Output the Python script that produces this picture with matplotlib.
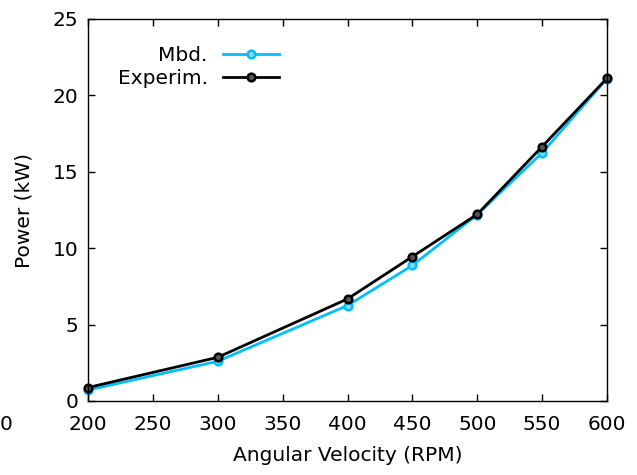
import matplotlib
matplotlib.use("Agg")
import matplotlib.pyplot as plt

# angular velocity (RPM) and power (kW)
rpm = [200, 300, 400, 450, 500, 550, 600]
power_mbd = [0.72, 2.6, 6.25, 8.87, 12.2, 16.25, 21.1]
power_exp = [0.88, 2.86, 6.68, 9.45, 12.22, 16.65, 21.12]

plt.rcParams['font.family'] = ['DejaVu Sans']
plt.rcParams['font.size'] = 14.5

fig = plt.figure(figsize=(6.37, 4.75), dpi=100)
ax = fig.add_axes([88 / 637, 1 - 401 / 475, (607 - 88) / 637, (401 - 19) / 475])

ax.plot(rpm, power_mbd, color='#00bfff', lw=2, marker='o', ms=5.5,
        mfc='#7fdcff', mec='#00bfff', mew=1.8, label='Mbd.', clip_on=False)
ax.plot(rpm, power_exp, color='black', lw=2, marker='o', ms=5.5,
        mfc='#555555', mec='black', mew=1.8, label='Experim.', clip_on=False)

ax.set_xlim(200, 600)
ax.set_ylim(0, 25)
ax.set_xticks(range(200, 601, 50))
ax.set_yticks(range(0, 26, 5))
ax.tick_params(direction='in', top=True, right=True, length=5, width=1, pad=7)
ax.tick_params(axis='x', pad=10)
for s in ax.spines.values():
    s.set_linewidth(1)

ax.set_xlabel("Angular Velocity (RPM)", labelpad=9)
ax.set_ylabel("Power (kW)", labelpad=14)

leg = ax.legend(loc='upper right', bbox_to_anchor=(279 / 637, 1 - 46 / 475),
                bbox_transform=fig.transFigure, frameon=False,
                markerfirst=False, handlelength=2.8, handletextpad=0.75,
                labelspacing=0.2, borderaxespad=0, borderpad=0)
for t in leg.get_texts():
    t.set_ha('right')
leg._legend_box.align = 'right'

# partially visible label at left edge of the original figure
fig.text(0.0, 1 - 430 / 475, "0", fontsize=14.5, ha='left')

fig.savefig("out.png", dpi=100)
